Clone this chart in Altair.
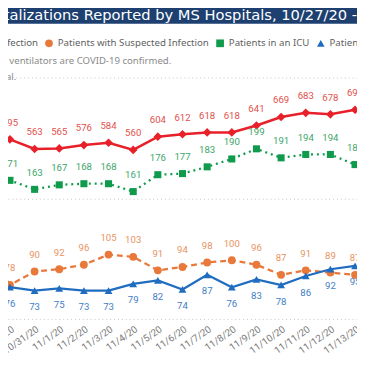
import altair as alt
import pandas as pd
from datetime import datetime, timedelta

# ---------------- data ----------------
dates = ["2020/10/29", "2020/10/30", "2020/10/31", "2020/11/01", "2020/11/02",
         "2020/11/03", "2020/11/04", "2020/11/05", "2020/11/06", "2020/11/07",
         "2020/11/08", "2020/11/09", "2020/11/10", "2020/11/11", "2020/11/12",
         "2020/11/13"]
confirmed = [613, 595, 563, 565, 576, 584, 560, 604, 612, 618, 618, 641, 669, 683, 678, 693]
icu = [170, 171, 163, 167, 168, 168, 161, 176, 177, 183, 190, 199, 191, 194, 194, 185]
suspected = [120, 78, 90, 92, 96, 105, 103, 91, 94, 98, 100, 96, 87, 91, 89, 87]
vent = [71, 76, 73, 75, 73, 73, 79, 82, 74, 87, 76, 83, 78, 86, 92, 95]

series_names = ["Patients with Confirmed Infection", "Patients with Suspected Infection",
                "Patients in an ICU", "Patients on Ventilators"]
line_colors = ["#e8202a", "#e9793b", "#0f9a4c", "#1f6cc0"]
label_colors = ["#e2504b", "#e9935f", "#3ea56b", "#3f7ec4"]
shapes = ["diamond", "circle", "square", "triangle-up"]

title_text = "COVID-19 Hospitalizations Reported by MS Hospitals, 10/27/20 -"
note1 = "Patients in an ICU and on ventilators are COVID-19 confirmed."
note2 = "Data are provisional."

# ---------------- layout (svg coords = reference page coords - 8) ----------------
M = 8
W = 357
TOP = 75 - M
PH = 322 - 75
BOT = 357 - TOP - PH

red_domain = [0, 800]
left_domain = [47.8, 262.4]

px_day = (363 - 10) / 14
d0 = datetime(2020, 10, 30) - timedelta(days=(10 - M) / px_day)
d1 = datetime(2020, 11, 13) + timedelta(days=2 / px_day)


def dt(d):
    return alt.DateTime(year=d.year, month=d.month, date=d.day,
                        hours=d.hour, minutes=d.minute, seconds=d.second)


tick_vals = [alt.DateTime(year=int(s[:4]), month=int(s[5:7]), date=int(s[8:]))
             for s in dates[1:]]

xenc = alt.X("date:T",
             scale=alt.Scale(domain=[dt(d0), dt(d1)]),
             axis=alt.Axis(values=tick_vals, format="%-m/%-d/%y", labelAngle=-35,
                           labelPadding=5, labelFlush=False, labelOverlap=False,
                           domain=False, ticks=False, grid=False, title=None,
                           labelFont="Roboto", labelFontSize=10,
                           labelColor="#7a7a7a"))

values_by_series = [confirmed, suspected, icu, vent]
rows = []
for name, vals in zip(series_names, values_by_series):
    for d, v in zip(dates, vals):
        rows.append({"date": d, "series": name, "value": v})
df = pd.DataFrame(rows)

legend = alt.Legend(title=None, orient="none", legendX=-139, legendY=-40,
                    direction="horizontal", labelFont="Noto Sans", labelFontSize=9.9,
                    labelColor="#5f5f5f", symbolSize=62, symbolStrokeWidth=0,
                    columnPadding=6, labelOffset=4, padding=0, labelLimit=400)
color_scale = alt.Scale(domain=series_names, range=line_colors)
shape_scale = alt.Scale(domain=series_names, range=shapes)

layers = []

# title bar and notes
bar = alt.Chart(pd.DataFrame({"a": [0]})).mark_rect(color="#1d4070").encode(
    x=alt.value(0), x2=alt.value(W), y=alt.value(-TOP - M), y2=alt.value(-TOP - M + 20))
title = alt.Chart(pd.DataFrame({"t": [title_text]})).mark_text(
    align="right", baseline="alphabetic", font="DejaVu Sans", fontSize=15, color="white"
).encode(text="t:N", x=alt.value(W), y=alt.value(-TOP - M + 16))
n1 = alt.Chart(pd.DataFrame({"t": [note1]})).mark_text(
    align="right", baseline="middle", font="Noto Sans", fontSize=9.8, color="#8a8a8a"
).encode(text="t:N", x=alt.value(175 - M), y=alt.value(-TOP - M + 58))
n2 = alt.Chart(pd.DataFrame({"t": [note2]})).mark_text(
    align="right", baseline="middle", font="Noto Sans", fontSize=9.8, color="#8a8a8a"
).encode(text="t:N", x=alt.value(16.5 - M), y=alt.value(-TOP - M + 75))
layers += [bar, title, n1, n2]

styles = {
    series_names[0]: dict(dom=red_domain, width=2.6, dash=None, size=78, dy=-17),
    series_names[2]: dict(dom=left_domain, width=2.3, dash=[2, 4], size=52, dy=-17),
    series_names[1]: dict(dom=left_domain, width=2.3, dash=[6, 4], size=64, dy=-17),
    series_names[3]: dict(dom=left_domain, width=2.3, dash=None, size=64, dy=17),
}

first = True
for name in [series_names[0], series_names[2], series_names[1], series_names[3]]:
    i = series_names.index(name)
    st = styles[name]
    sub = df[df.series == name]
    if first:
        yaxis = alt.Axis(values=[0, 400, 800], grid=True, labels=False, ticks=False,
                         domain=False, title=None, gridDash=[1, 3],
                         gridColor="#c6c6c6", gridWidth=1)
        first = False
    else:
        yaxis = None
    yscale = alt.Scale(domain=st["dom"], nice=False, zero=False)
    base = alt.Chart(sub)
    lk = dict(color=line_colors[i], strokeWidth=st["width"])
    if st["dash"]:
        lk["strokeDash"] = st["dash"]
    line = base.mark_line(**lk).encode(x=xenc, y=alt.Y("value:Q", scale=yscale, axis=yaxis))
    pts = base.mark_point(filled=True, opacity=1, size=st["size"]).encode(
        x=xenc,
        y=alt.Y("value:Q", scale=yscale, axis=None),
        color=alt.Color("series:N", scale=color_scale, legend=legend),
        shape=alt.Shape("series:N", scale=shape_scale, legend=legend))
    txt = base.mark_text(dy=st["dy"], font="Roboto", fontSize=9.8,
                         color=label_colors[i]).encode(
        x=xenc,
        y=alt.Y("value:Q", scale=yscale, axis=None),
        text="value:Q")
    layers += [line, pts, txt]

chart = alt.layer(*layers).resolve_scale(y="independent").properties(
    width=W, height=PH,
    autosize=alt.AutoSizeParams(type="none"),
    padding={"left": 0, "top": TOP, "right": 0, "bottom": BOT},
    background="white",
).configure_view(stroke=None)

chart.save("out.html", embed_options={"renderer": "svg", "actions": False})
